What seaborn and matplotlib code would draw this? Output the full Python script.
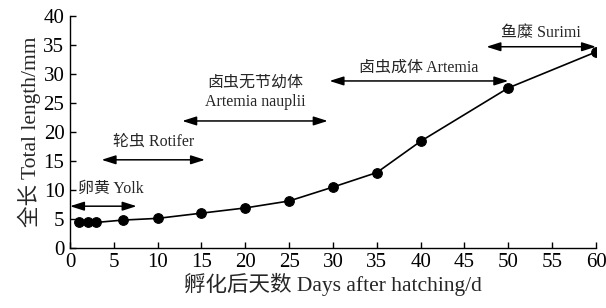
import matplotlib
matplotlib.use("Agg")
import matplotlib.pyplot as plt
import seaborn as sns
import pandas as pd

days = [1, 2, 3, 6, 10, 15, 20, 25, 30, 35, 40, 50, 60]
length_mm = [4.4, 4.4, 4.4, 4.8, 5.1, 6.0, 6.9, 8.1, 10.5, 13.0, 18.4, 27.6, 33.8]

stage_labels = ["卵黄 Yolk", "轮虫 Rotifer", "卤虫无节幼体\nArtemia nauplii", "卤虫成体 Artemia", "鱼糜 Surimi"]
stage_start = [0, 3.6, 12.8, 29.6, 47.5]
stage_end = [7.6, 15.4, 29.4, 50, 60]

xticks = list(range(0, 61, 5))
yticks = list(range(0, 41, 5))

sns.set_style("ticks")
fam = ["Liberation Serif", "Noto Sans CJK SC"]
plt.rcParams["font.family"] = fam
plt.rcParams["xtick.direction"] = "in"
plt.rcParams["ytick.direction"] = "in"

fig = plt.figure(figsize=(6.06, 3.08), dpi=100)
ax = fig.add_axes([0.1155, 0.195, 0.868, 0.753])

df = pd.DataFrame({"day": days, "len": length_mm})
sns.lineplot(data=df, x="day", y="len", ax=ax, color="black", linewidth=1.2,
             marker="o", markersize=7, markeredgecolor="black", markerfacecolor="black")

arrow_y = [7.2, 15.2, 21.9, 28.8, 34.7]
text_y = [10.2, 18.4, 26.8, 31.1, 37.1]
text_dx = [0.9, 0, 0, 0, 0]
for lab, s, e, ay, ty, dx in zip(stage_labels, stage_start, stage_end, arrow_y, text_y, text_dx):
    ax.annotate("", xy=(e, ay), xytext=(s, ay),
                arrowprops=dict(arrowstyle="<|-|>,head_length=0.85,head_width=0.27",
                                color="black", lw=1.1, shrinkA=0, shrinkB=0),
                annotation_clip=False)
    ax.text((s + e) / 2 + dx, ty, lab, ha="center", va="center",
            fontsize=11.5, family=fam, linespacing=1.25)

ax.set_xlim(0, 60)
ax.set_ylim(0, 40)
ax.set_xticks(xticks)
ax.set_yticks(yticks)
ax.tick_params(labelsize=15, length=4, width=1, colors="black", pad=4)
for s in ["left", "bottom"]:
    ax.spines[s].set_linewidth(1.0)
    ax.spines[s].set_color("black")
sns.despine(ax=ax)
ax.set_xlabel("孵化后天数 Days after hatching/d", fontsize=15.5, family=fam, labelpad=0)
ax.set_ylabel("全长 Total length/mm", fontsize=15.5, family=fam, labelpad=2)

fig.savefig("out.png", dpi=100)
